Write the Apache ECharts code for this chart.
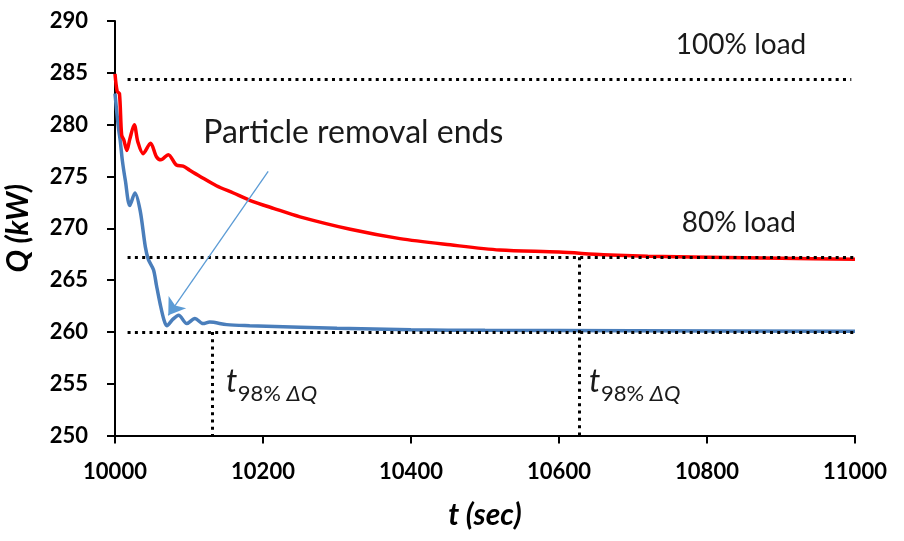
<!DOCTYPE html>
<html>
<head>
<meta charset="utf-8">
<script src="https://cdn.jsdelivr.net/npm/echarts@6/dist/echarts.min.js"></script>
<style>
html,body{margin:0;padding:0;background:#fff;}
#main{width:904px;height:541px;}
</style>
</head>
<body>
<div id="main"></div>
<script>
// 80% load response (red)
var redT = [10000, 10003, 10006, 10009, 10012, 10016, 10020, 10026, 10031, 10038, 10048, 10056, 10062, 10072, 10083, 10092, 10101, 10115, 10137, 10160, 10182, 10215, 10250, 10318, 10385, 10453, 10520, 10600, 10660, 10720, 10800, 10900, 11000];
var redQ = [284.9, 283.2, 283.0, 279.0, 278.5, 277.5, 278.6, 280.0, 278.3, 277.2, 278.2, 276.9, 276.6, 277.1, 276.1, 276.0, 275.6, 275.0, 274.1, 273.4, 272.7, 271.9, 271.1, 269.9, 269.0, 268.4, 267.9, 267.7, 267.45, 267.3, 267.2, 267.1, 267.0];

// particle removal response (blue)
var blueT = [10000, 10002, 10005, 10007, 10010, 10014, 10020, 10027, 10034, 10041, 10045, 10052, 10056, 10061, 10066, 10070, 10078, 10086, 10097, 10108, 10119, 10128, 10151, 10182, 10250, 10300, 10400, 10500, 10700, 11000];
var blueQ = [283.0, 281.5, 279.5, 278.5, 276.5, 274.6, 272.2, 273.4, 271.7, 268.2, 267.0, 266.0, 264.5, 262.7, 261.2, 260.6, 261.2, 261.6, 260.8, 261.3, 260.8, 260.95, 260.7, 260.6, 260.45, 260.35, 260.2, 260.15, 260.1, 260.05];

// guide levels and settling times
var q100 = 284.4, q80 = 267.2, qEnd = 260.0;
var tSettleBlue = 10131, tSettleRed = 10627;

// arrow "Particle removal ends"
var arrowFrom = [10207, 275.5], arrowTo = [10072, 261.6];

function pairs(ts, qs) {
	return ts.map(function (t, i) { return [t, qs[i]]; });
}

var chart = echarts.init(document.getElementById('main'));

var dotted = { color: '#000', width: 3, type: [3, 4.3] };
var axisFont = { color: '#000', fontFamily: 'Lato', fontWeight: 'bold', fontSize: 22 };
var nameFont = { color: '#000', fontFamily: 'Lato', fontWeight: 'bold', fontStyle: 'italic', fontSize: 30 };

function note(coord, text, fontSize, align, rich) {
	return {
		coord: coord,
		symbol: 'circle',
		symbolSize: 1,
		itemStyle: { color: 'rgba(0,0,0,0)' },
		label: {
			show: true, position: 'inside', formatter: text,
			align: align, verticalAlign: 'middle',
			color: '#1a1a1a', fontFamily: 'Lato', fontSize: fontSize,
			fontStyle: text === 't' ? 'italic' : 'normal',
			rich: rich || {}
		}
	};
}

var subRich = {
	n: { fontFamily: 'Lato', fontSize: 22, color: '#1a1a1a' },
	d: { fontFamily: 'Lato', fontSize: 22, fontStyle: 'italic', color: '#1a1a1a' }
};

option = {
	animation: false,
	grid: { left: 115, right: 49, top: 21, bottom: 105.5, outerBoundsMode: 'none' },
	xAxis: {
		type: 'value', min: 10000, max: 11000, interval: 200,
		name: 't (sec)', nameLocation: 'middle', nameGap: 65,
		nameTextStyle: nameFont,
		axisLine: { lineStyle: { color: '#000', width: 2 } },
		axisTick: { length: 8, lineStyle: { color: '#000', width: 2 } },
		axisLabel: Object.assign({ margin: 25, formatter: function (v) { return String(v); } }, axisFont),
		splitLine: { show: false }
	},
	yAxis: {
		type: 'value', min: 250, max: 290, interval: 5,
		name: 'Q (kW)', nameLocation: 'middle', nameGap: 82, nameRotate: 90,
		nameTextStyle: nameFont,
		axisLine: { show: true, lineStyle: { color: '#000', width: 2 } },
		axisTick: { show: true, length: 8, lineStyle: { color: '#000', width: 2 } },
		axisLabel: Object.assign({ margin: 27 }, axisFont),
		splitLine: { show: false }
	},
	series: [
		{
			name: 'blue', type: 'line', smooth: 0.3, symbol: 'none',
			data: pairs(blueT, blueQ),
			lineStyle: { color: '#4a7ebb', width: 3.5 }
		},
		{
			name: 'red', type: 'line', smooth: 0.3, symbol: 'none',
			data: pairs(redT, redQ),
			lineStyle: { color: '#ff0000', width: 3.5 }
		},
		{
			name: 'guides', type: 'line', data: [], symbol: 'none', silent: true,
			markLine: {
				silent: true, symbol: 'none', label: { show: false },
				lineStyle: dotted,
				data: [
					[{ coord: [10017, q100] }, { coord: [10995, q100] }],
					[{ coord: [10017, q80] }, { coord: [11000, q80] }],
					[{ coord: [10017, qEnd] }, { coord: [11000, qEnd] }],
					[{ coord: [tSettleBlue, qEnd] }, { coord: [tSettleBlue, 250] }],
					[{ coord: [tSettleRed, q80] }, { coord: [tSettleRed, 250] }],
					[{ coord: arrowFrom, symbol: 'none', lineStyle: { color: '#5b9bd5', width: 1.3, type: 'solid' } },
					 { coord: arrowTo, symbol: 'arrow', symbolSize: 16 }]
				]
			},
			markPoint: {
				silent: true,
				data: [
					note([10846, 287.73], '100% load', 28, 'center'),
					note([10843, 270.53], '80% load', 28, 'center'),
					note([10322, 279.2], 'Particle removal ends', 32, 'center'),
					note([10150, 255.17], 't', 32, 'left'),
					note([10166, 254.01], '{n|98% }{d|ΔQ}', 22, 'left', subRich),
					note([10640.5, 255.17], 't', 32, 'left'),
					note([10656.8, 254.01], '{n|98% }{d|ΔQ}', 22, 'left', subRich)
				]
			}
		}
	]
};
chart.setOption(option);
</script>
</body>
</html>
